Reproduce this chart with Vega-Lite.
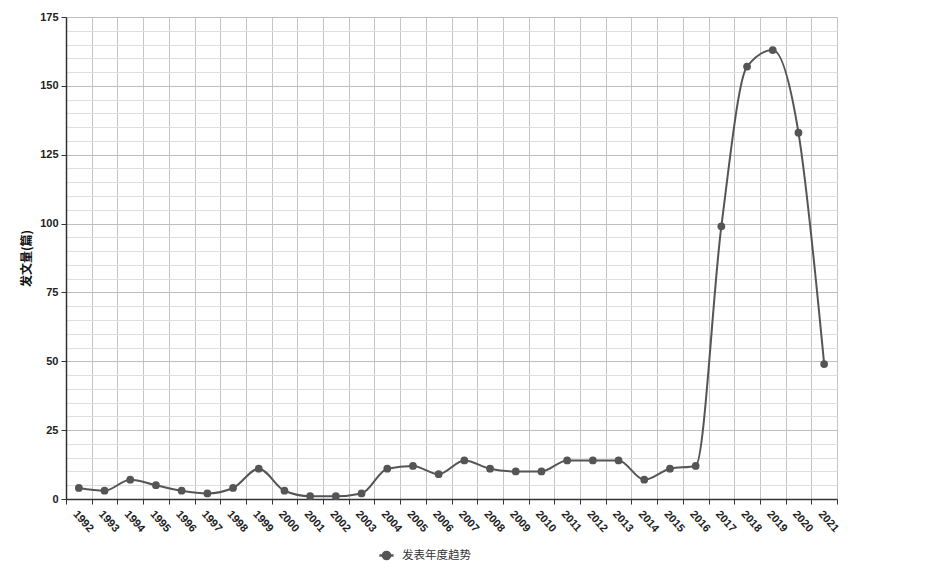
{
  "$schema": "https://vega.github.io/schema/vega-lite/v6.json",
  "width": 771,
  "height": 482,
  "autosize": "none",
  "padding": {"left": 66, "top": 17, "right": 91, "bottom": 81},
  "background": "white",
  "config": {"font": "Liberation Sans", "view": {"stroke": null}},
  "data": {"values": [
    {"year": "1992", "count": 4}, {"year": "1993", "count": 3}, {"year": "1994", "count": 7},
    {"year": "1995", "count": 5}, {"year": "1996", "count": 3}, {"year": "1997", "count": 2},
    {"year": "1998", "count": 4}, {"year": "1999", "count": 11}, {"year": "2000", "count": 3},
    {"year": "2001", "count": 1}, {"year": "2002", "count": 1}, {"year": "2003", "count": 2},
    {"year": "2004", "count": 11}, {"year": "2005", "count": 12}, {"year": "2006", "count": 9},
    {"year": "2007", "count": 14}, {"year": "2008", "count": 11}, {"year": "2009", "count": 10},
    {"year": "2010", "count": 10}, {"year": "2011", "count": 14}, {"year": "2012", "count": 14},
    {"year": "2013", "count": 14}, {"year": "2014", "count": 7}, {"year": "2015", "count": 11},
    {"year": "2016", "count": 12}, {"year": "2017", "count": 99}, {"year": "2018", "count": 157},
    {"year": "2019", "count": 163}, {"year": "2020", "count": 133}, {"year": "2021", "count": 49}
  ]},
  "encoding": {
    "x": {
      "field": "year", "type": "ordinal", "bandPosition": 0.5,
      "scale": {"type": "band", "paddingInner": 0, "paddingOuter": 0},
      "axis": {
        "title": null, "tickBand": "extent", "grid": true, "gridColor": "#c4c4c4", "gridWidth": 1,
        "domainColor": "#333333", "domainWidth": 1.5, "tickColor": "#333333", "tickSize": 5,
        "labelAngle": 48, "labelAlign": "left", "labelBaseline": "top", "labelPadding": 4,
        "labelFontWeight": "bold", "labelFontSize": 11, "labelColor": "#222222"
      }
    },
    "y": {
      "field": "count", "type": "quantitative",
      "scale": {"domain": [0, 175], "nice": false},
      "axis": {
        "values": [0,5,10,15,20,25,30,35,40,45,50,55,60,65,70,75,80,85,90,95,100,105,110,115,120,125,130,135,140,145,150,155,160,165,170,175],
        "labelExpr": "datum.value % 25 === 0 ? datum.label : ''",
        "grid": true,
        "gridColor": {"condition": {"test": "datum.value % 25 === 0", "value": "#bdbdbd"}, "value": "#dedede"},
        "tickOpacity": {"condition": {"test": "datum.value % 25 === 0", "value": 1}, "value": 0},
        "tickSize": 5, "tickColor": "#333333",
        "domainColor": "#333333", "domainWidth": 1.5,
        "labelFontWeight": "bold", "labelFontSize": 11, "labelColor": "#222222", "labelPadding": 3,
        "title": "发文量(篇)", "titleFont": "Noto Sans CJK SC", "titleFontWeight": "bold",
        "titleFontSize": 12, "titleColor": "#111111", "titlePadding": 6
      }
    },
    "color": {
      "datum": "发表年度趋势", "type": "nominal",
      "scale": {"range": ["#555555"]},
      "legend": {
        "title": null, "orient": "none", "legendX": 312, "legendY": 530,
        "labelFont": "Noto Sans CJK SC", "labelFontSize": 11.5, "labelColor": "#333333", "labelOffset": 7,
        "symbolType": "M-1,0L1,0M-0.5,0A0.5,0.5,0,1,1,0.5,0A0.5,0.5,0,1,1,-0.5,0Z",
        "symbolSize": 200, "symbolStrokeWidth": 2.5, "symbolFillColor": "#555555", "symbolStrokeColor": "#555555"
      }
    }
  },
  "layer": [
    {"mark": {"type": "line", "interpolate": "monotone", "strokeWidth": 2}},
    {"mark": {"type": "point", "filled": true, "size": 60, "opacity": 1}}
  ]
}
